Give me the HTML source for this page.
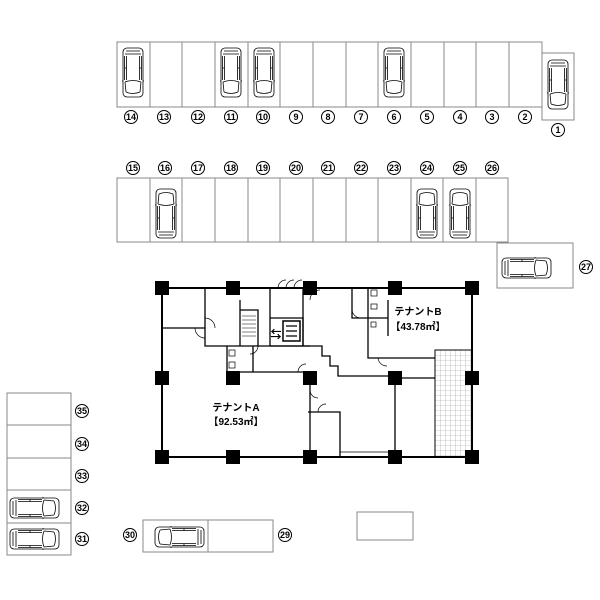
<!DOCTYPE html>
<html><head><meta charset="utf-8"><style>
html,body{margin:0;padding:0;background:#fff;}
svg{display:block;}
text{font-family:"Liberation Sans","Noto Sans CJK JP",sans-serif;}
.n{font-size:9px;font-weight:bold;text-anchor:middle;}
.t{font-size:10px;font-weight:bold;text-anchor:middle;}
</style></head><body>
<svg width="600" height="600" viewBox="0 0 600 600" xmlns="http://www.w3.org/2000/svg">
<defs>
<g id="car" fill="#fff" stroke="#000" stroke-width="0.8">
<rect x="1" y="0" width="20" height="49" rx="4"/>
<path d="M3 6 L19 6 M4 3 L18 3 M3 34 Q11 31 19 34 M4 44 Q11 47 18 44 M3 34 L4 44 M19 34 L18 44" fill="none"/>
<path d="M2.5 8 L2.5 32 M4.5 8 L4.5 32 M17.5 8 L17.5 32 M19.5 8 L19.5 32 M2.5 20 L4.5 20 M17.5 20 L19.5 20" fill="none"/>
<path d="M0 33 L1 33 M21 33 L22 33" fill="none"/>
</g>
<g id="c"><circle r="6.5" fill="#fff" stroke="#000" stroke-width="1"/></g>
<pattern id="grid" width="5" height="5" patternUnits="userSpaceOnUse"><path d="M5 0 L0 0 0 5" fill="none" stroke="#999" stroke-width="0.6"/></pattern>
</defs>
<g fill="none" stroke="#888" stroke-width="1">
<!-- top row -->
<rect x="117" y="42" width="425" height="65"/>
<path d="M150 42V107M182 42V107M215 42V107M248 42V107M280 42V107M313 42V107M346 42V107M378 42V107M411 42V107M444 42V107M476 42V107M509 42V107"/>
<rect x="542" y="53" width="32" height="67"/>
<!-- second row -->
<rect x="117" y="178" width="391" height="64"/>
<path d="M150 178V242M182 178V242M215 178V242M248 178V242M280 178V242M313 178V242M346 178V242M378 178V242M411 178V242M443 178V242M476 178V242"/>
<rect x="497" y="243" width="76" height="45"/>
<!-- left column -->
<rect x="7" y="393" width="64" height="162"/>
<path d="M7 425H71M7 458H71M7 490H71M7 523H71"/>
<!-- 30/29 -->
<rect x="143" y="520" width="130" height="32"/>
<path d="M208 520V552"/>
<rect x="357" y="512" width="56" height="28"/>
</g>
<!-- cars top row -->
<use href="#car" x="122" y="48"/>
<use href="#car" x="220" y="48"/>
<use href="#car" x="253" y="48"/>
<use href="#car" x="383" y="48"/>
<use href="#car" x="547" y="60"/>
<!-- cars second row (flipped) -->
<use href="#car" transform="translate(177,238) rotate(180)"/>
<use href="#car" transform="translate(438,238) rotate(180)"/>
<use href="#car" transform="translate(471,238) rotate(180)"/>
<!-- horizontal cars -->
<use href="#car" transform="translate(502,279) rotate(-90)"/>
<use href="#car" transform="translate(10,519) rotate(-90)"/>
<use href="#car" transform="translate(10,550) rotate(-90)"/>
<use href="#car" transform="translate(204,526) rotate(90)"/>
<!-- labels -->
<g>
<use href="#c" x="131" y="117"/><text class="n" x="131" y="120">14</text>
<use href="#c" x="164" y="117"/><text class="n" x="164" y="120">13</text>
<use href="#c" x="198" y="117"/><text class="n" x="198" y="120">12</text>
<use href="#c" x="231" y="117"/><text class="n" x="231" y="120">11</text>
<use href="#c" x="263" y="117"/><text class="n" x="263" y="120">10</text>
<use href="#c" x="296" y="117"/><text class="n" x="296" y="120">9</text>
<use href="#c" x="328" y="117"/><text class="n" x="328" y="120">8</text>
<use href="#c" x="361" y="117"/><text class="n" x="361" y="120">7</text>
<use href="#c" x="394" y="117"/><text class="n" x="394" y="120">6</text>
<use href="#c" x="427" y="117"/><text class="n" x="427" y="120">5</text>
<use href="#c" x="460" y="117"/><text class="n" x="460" y="120">4</text>
<use href="#c" x="492" y="117"/><text class="n" x="492" y="120">3</text>
<use href="#c" x="525" y="117"/><text class="n" x="525" y="120">2</text>
<use href="#c" x="558" y="130"/><text class="n" x="558" y="133">1</text>
<use href="#c" x="133" y="168"/><text class="n" x="133" y="171">15</text>
<use href="#c" x="165" y="168"/><text class="n" x="165" y="171">16</text>
<use href="#c" x="198" y="168"/><text class="n" x="198" y="171">17</text>
<use href="#c" x="231" y="168"/><text class="n" x="231" y="171">18</text>
<use href="#c" x="263" y="168"/><text class="n" x="263" y="171">19</text>
<use href="#c" x="296" y="168"/><text class="n" x="296" y="171">20</text>
<use href="#c" x="328" y="168"/><text class="n" x="328" y="171">21</text>
<use href="#c" x="361" y="168"/><text class="n" x="361" y="171">22</text>
<use href="#c" x="394" y="168"/><text class="n" x="394" y="171">23</text>
<use href="#c" x="427" y="168"/><text class="n" x="427" y="171">24</text>
<use href="#c" x="460" y="168"/><text class="n" x="460" y="171">25</text>
<use href="#c" x="492" y="168"/><text class="n" x="492" y="171">26</text>
<use href="#c" x="586" y="267"/><text class="n" x="586" y="270">27</text>
<use href="#c" x="82" y="411"/><text class="n" x="82" y="414">35</text>
<use href="#c" x="82" y="444"/><text class="n" x="82" y="447">34</text>
<use href="#c" x="82" y="476"/><text class="n" x="82" y="479">33</text>
<use href="#c" x="82" y="508"/><text class="n" x="82" y="511">32</text>
<use href="#c" x="82" y="539"/><text class="n" x="82" y="542">31</text>
<use href="#c" x="130" y="535"/><text class="n" x="130" y="538">30</text>
<use href="#c" x="285" y="535"/><text class="n" x="285" y="538">29</text>
</g>
<!-- building -->
<rect x="435" y="350" width="37" height="107" fill="url(#grid)" stroke="#000" stroke-width="1"/>
<g fill="none" stroke="#000" stroke-width="2">
<path d="M162 288H472V457H162Z"/>
</g>
<g fill="none" stroke="#000" stroke-width="1.3">
<path d="M162 328H205M205 288V346H240M205 346H310"/>
<path d="M240 300V346M240 310H258V346M258 310V325"/>
<path d="M270 288V346M270 318H303V346M270 346H310"/>
<path d="M253 346V372M227 346V372M227 372H310"/>
<path d="M310 346H322V356H330V366H338V376H395"/>
<path d="M303 288V346"/>
<path d="M352 288V318H368M368 288V358H435M368 318H388V336M388 300V318"/>
<path d="M395 378V457M393 378H435"/>
<path d="M308 412H340V457"/>
<path d="M340 452H393" stroke-width="0.8"/>
<path d="M310 378V457"/>
</g>
<!-- stairs -->
<g stroke="#000" stroke-width="0.6" fill="none">
<path d="M242 316H256M242 320H256M242 324H256M242 328H256M242 332H256M242 336H256"/>
</g>
<!-- elevator icon -->
<rect x="283" y="321" width="17" height="20" fill="#fff" stroke="#000" stroke-width="1.5"/>
<path d="M286 326H297M286 331H297M286 336H297" stroke="#000" stroke-width="1.2"/>
<text x="276" y="338" font-size="11" font-weight="bold" text-anchor="middle">⇆</text>
<!-- doors -->
<g fill="none" stroke="#000" stroke-width="0.7">
<path d="M205 318 A10 10 0 0 1 215 328"/>
<path d="M195 328 A10 10 0 0 0 205 338"/>
<path d="M278 288 A8 8 0 0 1 286 280 M286 288 A8 8 0 0 1 294 280 M294 288 A8 8 0 0 1 302 280"/>
<path d="M310 300 A10 10 0 0 1 320 290"/>
<path d="M352 310 A9 9 0 0 0 360 318"/>
<path d="M378 358 A9 9 0 0 0 387 366"/>
<path d="M298 372 A8 8 0 0 1 306 364"/>
<path d="M310 390 A8 8 0 0 0 318 398 M318 412 A8 8 0 0 1 326 404"/>
<path d="M258 346 A8 8 0 0 1 250 354"/>
</g>
<!-- toilets -->
<g fill="#fff" stroke="#000" stroke-width="0.7">
<rect x="229" y="350" width="6" height="6"/><rect x="229" y="362" width="6" height="6"/>
<rect x="371" y="290" width="6" height="6"/><rect x="371" y="304" width="6" height="5"/>
<rect x="371" y="322" width="5" height="5"/>
</g>
<!-- columns -->
<g fill="#000">
<rect x="155" y="281" width="14" height="14"/><rect x="226" y="281" width="14" height="14"/><rect x="303" y="281" width="14" height="14"/><rect x="388" y="281" width="14" height="14"/><rect x="465" y="281" width="14" height="14"/>
<rect x="155" y="371" width="14" height="14"/><rect x="226" y="371" width="14" height="14"/><rect x="303" y="371" width="14" height="14"/><rect x="388" y="371" width="14" height="14"/><rect x="465" y="371" width="14" height="14"/>
<rect x="155" y="450" width="14" height="14"/><rect x="226" y="450" width="14" height="14"/><rect x="303" y="450" width="14" height="14"/><rect x="388" y="450" width="14" height="14"/><rect x="465" y="450" width="14" height="14"/>
</g>
<text class="t" x="236" y="411">テナントA</text>
<text class="t" x="236" y="425">【92.53㎡】</text>
<text class="t" x="418" y="315">テナントB</text>
<text class="t" x="418" y="330">【43.78㎡】</text>
</svg>
</body></html>
